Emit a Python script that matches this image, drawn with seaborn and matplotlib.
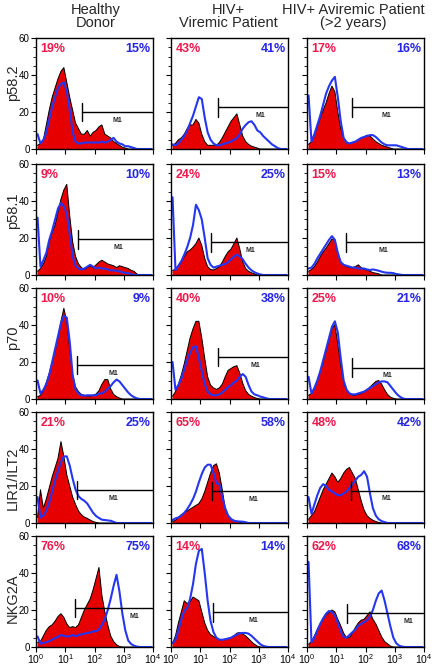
import numpy as np
import matplotlib
matplotlib.use("Agg")
import matplotlib.pyplot as plt
from matplotlib.ticker import FixedLocator, MultipleLocator, LogLocator, NullFormatter
import seaborn as sns

# column / row labels
groups = ["Healthy\nDonor", "HIV+\nViremic Patient", "HIV+ Aviremic Patient\n(>2 years)"]
group_x = [96, 228, 353]
markers = ["p58.2", "p58.1", "p70", "LIR1/ILT2", "NKG2A"]
marker_y = [83, 211, 338, 478, 598]

red_pct = [[19, 43, 17], [9, 24, 15], [10, 40, 25], [21, 65, 48], [76, 14, 62]]
blue_pct = [[15, 41, 16], [10, 25, 13], [9, 38, 21], [25, 58, 42], [75, 14, 68]]

# M1 gate: start channel, level, label channel
gate_start = [[37, 39, 35], [27.5, 24, 22], [25, 39, 35], [25, 26, 32], [21, 28, 24]]
gate_level = [[20, 22.5, 22.5], [19.3, 17.7, 17.7], [18.4, 22.7, 17], [17.8, 17.3, 17.5], [21, 18.7, 18.2]]
gate_label = [[590, 1175, 525], [630, 525, 417], [427, 795, 560], [427, 676, 500], [2400, 676, 3020]]

# histogram counts, 40 bins of 0.1 decade from 10^0 to 10^4
channels = 10 ** (np.arange(40) * 0.1 + 0.05)

red_p582_hd = [2, 3, 5, 13, 21, 28, 33, 38, 42, 44,
               36, 28, 21, 14, 11, 8, 8, 10, 7, 9,
               10, 12, 13, 8, 7, 6, 4, 3, 2, 1,
               0.5, 0, 0, 0, 0, 0, 0, 0, 0, 0]
blue_p582_hd = [8, 3, 5, 9, 16, 23, 28, 33, 35, 36,
                31, 21, 9, 4, 3, 3, 3.5, 3.5, 3.5, 3.5,
                3.5, 3.5, 4, 3.5, 4, 5, 6, 4, 3, 2.5,
                1.5, 1.5, 1, 0.5, 0, 0, 0, 0, 0, 0]
red_p582_vir = [2, 3, 5, 6, 8, 11, 13, 13, 16, 14,
                8, 4, 2, 2, 2, 2, 3.5, 6, 9, 12,
                15, 17, 19, 13, 7, 4, 2.5, 1.5, 1, 0.5,
                0, 0, 0, 0, 0, 0, 0, 0, 0, 0]
blue_p582_vir = [2.5, 2, 3, 5, 7, 10, 14, 18, 23, 28,
                 27, 17, 9, 5, 3, 2, 2, 2.5, 3, 3.5,
                 4, 5, 6, 8, 11, 13, 14.5, 15, 13, 10,
                 9, 7, 5.5, 4, 2.5, 1.5, 0.5, 0, 0, 0]
red_p582_avir = [2.5, 4, 8, 12, 17, 21, 25, 30, 34, 31,
                 20, 11, 6, 4, 3, 3.5, 4, 5, 6, 6.5,
                 7.5, 7, 5.5, 4, 3, 2, 1.5, 1, 0.5, 0,
                 0, 0, 0, 0, 0, 0, 0, 0, 0, 0]
blue_p582_avir = [29, 4, 8, 13, 18, 24, 30, 34, 37, 39,
                  28, 15, 6, 3.5, 3, 3.5, 4, 5, 6, 6.5,
                  7, 7.5, 7.5, 6.5, 5, 3.5, 2.5, 2, 2, 2,
                  2, 1.5, 1, 0.5, 0, 0, 0, 0, 0, 0]

red_p581_hd = [2, 3.5, 6, 10, 18, 23, 27, 34, 41, 46,
               49, 32, 18, 10, 6, 4, 3, 4, 5, 4,
               5.5, 7, 8, 7, 6, 5.5, 5, 4, 5, 4.5,
               4, 3.5, 2.5, 2, 0.5, 0, 0, 0, 0, 0]
blue_p581_hd = [31, 4.5, 8, 12, 19, 24, 30, 36, 39, 37,
                33, 22, 10, 5, 3.5, 3, 3.5, 4.5, 5.5, 4.5,
                3.5, 4, 3.5, 3.5, 3, 2.5, 2.5, 2.3, 2, 1.5,
                1.2, 1, 0.5, 0, 0, 0, 0, 0, 0, 0]
red_p581_vir = [2.5, 3, 5, 7, 10, 12.5, 13.5, 15, 17, 20,
                16, 9, 4.5, 3, 2.7, 3.5, 4.5, 7, 10, 12.5,
                14, 17, 20, 14, 7, 3.5, 2, 1.2, 0.6, 0,
                0, 0, 0, 0, 0, 0, 0, 0, 0, 0]
blue_p581_vir = [42, 2.7, 5, 7.5, 11, 15, 20, 27, 38, 35,
                 30, 20, 9, 5.5, 4, 4.5, 5, 5.5, 6, 7,
                 8.5, 10, 11, 10, 8.5, 6, 4, 2.5, 1.5, 0.8,
                 0.3, 0, 0, 0, 0, 0, 0, 0, 0, 0]
red_p581_avir = [2, 3, 4.5, 7, 10, 12.5, 14.5, 17, 19.5, 19,
                 12, 7, 5.5, 4.5, 4, 4, 4.5, 5.5, 4, 3,
                 2.7, 2, 1.3, 1, 0.6, 0, 0, 0, 0, 0,
                 0, 0, 0, 0, 0, 0, 0, 0, 0, 0]
blue_p581_avir = [3.5, 4, 6, 9, 11.5, 14, 16.5, 19, 21, 19,
                  12, 7, 5.5, 5, 4.5, 4, 4, 3.5, 3.5, 3.5,
                  3, 2.7, 3, 2.7, 2.3, 1.8, 1.4, 1.2, 1.2, 1,
                  0.5, 0.3, 0, 0, 0, 0, 0, 0, 0, 0]

red_p70_hd = [1.2, 2, 4.5, 9, 14, 20, 26, 33, 42, 49,
              42, 27, 13, 6.5, 4, 2.5, 2, 1.6, 1.6, 2,
              2.7, 4.5, 8, 10.5, 10.5, 5.5, 2.5, 1.3, 0.5, 0,
              0, 0, 0, 0, 0, 0, 0, 0, 0, 0]
blue_p70_hd = [10, 3, 5, 8, 13, 20, 27, 34, 41, 45,
               44, 31, 13, 5, 3, 2, 1.8, 2, 2, 2,
               2, 3, 3, 4, 5.5, 7, 9, 10.5, 9.5, 7.5,
               5.5, 3.5, 2, 1, 0.3, 0, 0, 0, 0, 0]
red_p70_vir = [1.5, 4, 8, 13, 19, 26, 33, 38, 42, 42,
               33, 22, 12, 7.5, 6, 5.2, 6, 8, 12, 15.5,
               16.5, 17.5, 18, 14, 8.5, 4.5, 2.5, 1.5, 0.8, 0.3,
               0, 0, 0, 0, 0, 0, 0, 0, 0, 0]
blue_p70_vir = [20, 5, 7.5, 11, 16, 21, 25, 28, 28.5, 22,
                15, 8, 4, 2.5, 2, 2, 2.5, 3.5, 5, 6.5,
                7.5, 9, 10, 12, 13.5, 12, 7.5, 4, 2.5, 2,
                1.3, 0.9, 0.4, 0, 0, 0, 0, 0, 0, 0]
red_p70_avir = [2, 3, 6, 10, 15, 20, 26, 32, 38, 40,
                30, 18, 9, 5, 3, 2, 2, 2.5, 3, 4,
                5, 6.5, 8, 9.5, 10, 8, 5, 2.5, 1, 0.4,
                0, 0, 0, 0, 0, 0, 0, 0, 0, 0]
blue_p70_avir = [12, 3, 6, 10, 15, 21, 27, 33, 39, 42,
                 36, 22, 10, 5, 3, 2.5, 2.5, 3, 3.5, 4,
                 5, 6, 7, 8, 9, 9.5, 9.5, 9, 7, 5,
                 3, 1.5, 0.5, 0, 0, 0, 0, 0, 0, 0]

red_lir_hd = [3, 18, 8, 13, 19, 25, 30, 35, 44, 36,
              26, 20, 14, 10, 6.5, 4.5, 3.2, 2.5, 1.6, 0.8,
              0.3, 0, 0, 0, 0, 0, 0, 0, 0, 0,
              0, 0, 0, 0, 0, 0, 0, 0, 0, 0]
blue_lir_hd = [14, 3, 4, 6.5, 11, 17, 23, 28, 33, 36,
               36, 31, 24, 18, 14.5, 13, 12, 10.5, 8, 5.5,
               3.8, 2.7, 1.8, 1.6, 1.4, 1.2, 0.6, 0, 0, 0,
               0, 0, 0, 0, 0, 0, 0, 0, 0, 0]
red_lir_vir = [0.7, 1.5, 3, 4.5, 5.5, 6.5, 7.5, 8.5, 9.5, 10.5,
               13, 17, 22, 27, 31, 32, 27, 18, 8, 4,
               2.2, 1.5, 1, 0.5, 0, 0, 0, 0, 0, 0,
               0, 0, 0, 0, 0, 0, 0, 0, 0, 0]
blue_lir_vir = [1.6, 2.5, 3, 4, 5.5, 7.5, 10, 13, 17, 22,
                26.5, 30, 31.5, 31.5, 27, 21.5, 21, 14, 8, 4,
                2.2, 1.2, 0.9, 0.8, 0.7, 0.4, 0, 0, 0, 0,
                0, 0, 0, 0, 0, 0, 0, 0, 0, 0]
red_lir_avir = [2, 4, 6, 10, 14, 18, 21, 24, 27, 25,
                22, 24, 27, 29, 30, 27, 24, 18, 12, 7,
                4, 2.5, 1.5, 0.8, 0.3, 0, 0, 0, 0, 0,
                0, 0, 0, 0, 0, 0, 0, 0, 0, 0]
blue_lir_avir = [14, 5, 10, 15, 19, 21, 20, 18, 17, 16,
                 15, 15, 16, 17, 19, 21, 23, 25, 26, 28,
                 25, 16, 8, 4, 2, 1, 0.5, 0, 0, 0,
                 0, 0, 0, 0, 0, 0, 0, 0, 0, 0]

red_nkg_hd = [2.5, 3, 6, 9, 11, 12, 14, 16.5, 18, 16,
              12.5, 10.5, 11, 10.5, 12, 16, 20, 23, 26, 31,
              37, 43, 28, 19, 12, 6, 3, 1.2, 0.3, 0,
              0, 0, 0, 0, 0, 0, 0, 0, 0, 0]
blue_nkg_hd = [5.7, 1.8, 2.2, 2.6, 3.2, 4, 4.8, 5.5, 6.5, 6,
               5.7, 5.8, 6.5, 5.8, 6.5, 6.8, 7.2, 7.6, 7.8, 8.5,
               8.5, 9.5, 12, 15, 20, 26, 33, 39, 30, 18,
               9, 3.5, 1.6, 0.7, 0.2, 0, 0, 0, 0, 0]
red_nkg_vir = [2, 6, 13, 19, 25, 23.5, 24.5, 27, 26, 25,
               19, 13, 9, 6.7, 5.7, 4.8, 4, 3.9, 4.2, 4.6,
               5, 6, 7.5, 7.8, 7, 6, 4.5, 2.8, 1.5, 0.5,
               0, 0, 0, 0, 0, 0, 0, 0, 0, 0]
blue_nkg_vir = [2, 4, 9, 15, 19.5, 21, 26, 34, 45, 52,
                53, 40, 25, 14, 8, 5, 4, 3.9, 4.2, 4.6,
                5, 6, 6.7, 7.5, 7.6, 7.6, 7.2, 6, 4.5, 3,
                1.5, 0.6, 0.2, 0, 0, 0, 0, 0, 0, 0]
red_nkg_avir = [1.5, 3, 6, 9.5, 12.5, 15, 17.5, 18.5, 20, 19,
                15, 11.5, 7.5, 5, 5.2, 7.5, 10.5, 13, 14.5, 15,
                17, 19, 15, 12.5, 9, 5.5, 3, 1.7, 0.5, 0,
                0, 0, 0, 0, 0, 0, 0, 0, 0, 0]
blue_nkg_avir = [46, 2.5, 5, 9, 12.5, 15.5, 18, 19.5, 19, 17,
                 13, 8.5, 5.5, 5, 6.5, 8, 9.5, 11.5, 12.5, 13.5,
                 14.5, 16.5, 20, 25, 29, 30.5, 25, 18, 11, 5,
                 2, 0.7, 0.2, 0, 0, 0, 0, 0, 0, 0]

red = [[red_p582_hd, red_p582_vir, red_p582_avir],
       [red_p581_hd, red_p581_vir, red_p581_avir],
       [red_p70_hd, red_p70_vir, red_p70_avir],
       [red_lir_hd, red_lir_vir, red_lir_avir],
       [red_nkg_hd, red_nkg_vir, red_nkg_avir]]
blue = [[blue_p582_hd, blue_p582_vir, blue_p582_avir],
        [blue_p581_hd, blue_p581_vir, blue_p581_avir],
        [blue_p70_hd, blue_p70_vir, blue_p70_avir],
        [blue_lir_hd, blue_lir_vir, blue_lir_avir],
        [blue_nkg_hd, blue_nkg_vir, blue_nkg_avir]]

FILL_RED = "#e60000"
LINE_BLUE = "#2536f2"
TXT_RED = "#ee1a4c"
TXT_BLUE = "#2424e6"

sns.set_theme(style="ticks")
plt.rcParams["font.family"] = ["Liberation Sans", "DejaVu Sans"]
plt.rcParams["mathtext.fontset"] = "custom"
plt.rcParams["mathtext.rm"] = "Liberation Sans"
plt.rcParams["mathtext.default"] = "regular"
plt.rcParams["axes.edgecolor"] = "black"
plt.rcParams["xtick.color"] = "black"
plt.rcParams["ytick.color"] = "black"

W, H = 438, 665
col_left = [36, 171, 307]
row_bottom = [149, 275, 399, 523, 647]
pw, ph = 117, 111

fig, axes = plt.subplots(5, 3, figsize=(W / 100, H / 100), dpi=100)
hist_kw = dict(x=channels, bins=40, binrange=(0, 4), log_scale=True, element="poly")

for i in range(5):
    for j in range(3):
        ax = axes[i, j]
        ax.set_position([col_left[j] / W, 1 - row_bottom[i] / H, pw / W, ph / H])

        sns.histplot(weights=red[i][j], fill=True, color=FILL_RED, edgecolor="none",
                     alpha=1, ax=ax, **hist_kw)
        sns.histplot(weights=red[i][j], fill=False, color="black", linewidth=0.7,
                     ax=ax, **hist_kw)
        sns.histplot(weights=blue[i][j], fill=False, color=LINE_BLUE, linewidth=1.5,
                     ax=ax, **hist_kw)

        # M1 gate
        g, gy = gate_start[i][j], gate_level[i][j]
        ax.plot([g, 1e4], [gy, gy], color="black", lw=1, zorder=6)
        ax.plot([g, g], [gy - 5, gy + 5], color="black", lw=1, zorder=6)
        ax.text(gate_label[i][j], gy - 4.5, "M1", fontsize=5, fontweight="bold",
                ha="center", va="center", zorder=6)

        ax.text(0.04, 0.9, f"{red_pct[i][j]}%", color=TXT_RED, fontsize=9,
                fontweight="bold", transform=ax.transAxes, ha="left", va="center")
        ax.text(0.98, 0.9, f"{blue_pct[i][j]}%", color=TXT_BLUE, fontsize=9,
                fontweight="bold", transform=ax.transAxes, ha="right", va="center")

        ax.set_xlim(1, 1e4)
        ax.set_ylim(0, 60)
        ax.set_xlabel("")
        ax.set_ylabel("")
        ax.yaxis.set_major_locator(FixedLocator([0, 20, 40, 60]))
        ax.yaxis.set_minor_locator(MultipleLocator(5))
        ax.xaxis.set_major_locator(FixedLocator([1, 10, 100, 1000, 10000]))
        ax.xaxis.set_minor_locator(LogLocator(base=10, subs=np.arange(2, 10)))
        ax.xaxis.set_minor_formatter(NullFormatter())
        ax.tick_params(which="major", direction="out", length=3.5, width=0.8, pad=1)
        ax.tick_params(which="minor", direction="out", length=2, width=0.6)
        if j == 0:
            ax.set_yticklabels(["0", "20", "40", "60"], fontsize=7)
        else:
            ax.set_yticklabels([])
        if i == 4:
            ax.set_xticklabels([r"$10^{0}$", r"$10^{1}$", r"$10^{2}$", r"$10^{3}$", r"$10^{4}$"],
                               fontsize=7.5)
            ax.tick_params(axis="x", which="major", pad=0.5)
        else:
            ax.set_xticklabels([])
        for s in ax.spines.values():
            s.set_visible(True)
            s.set_linewidth(1)
            s.set_color("black")

for k, name in enumerate(groups):
    fig.text(group_x[k] / W, 1 - 3 / H, name, ha="center", va="top",
             fontsize=10.5, linespacing=0.95)

for k, name in enumerate(markers):
    fig.text(13 / W, 1 - marker_y[k] / H, name, ha="center", va="center",
             rotation=90, fontsize=10.5)

fig.savefig("out.png", dpi=100)
